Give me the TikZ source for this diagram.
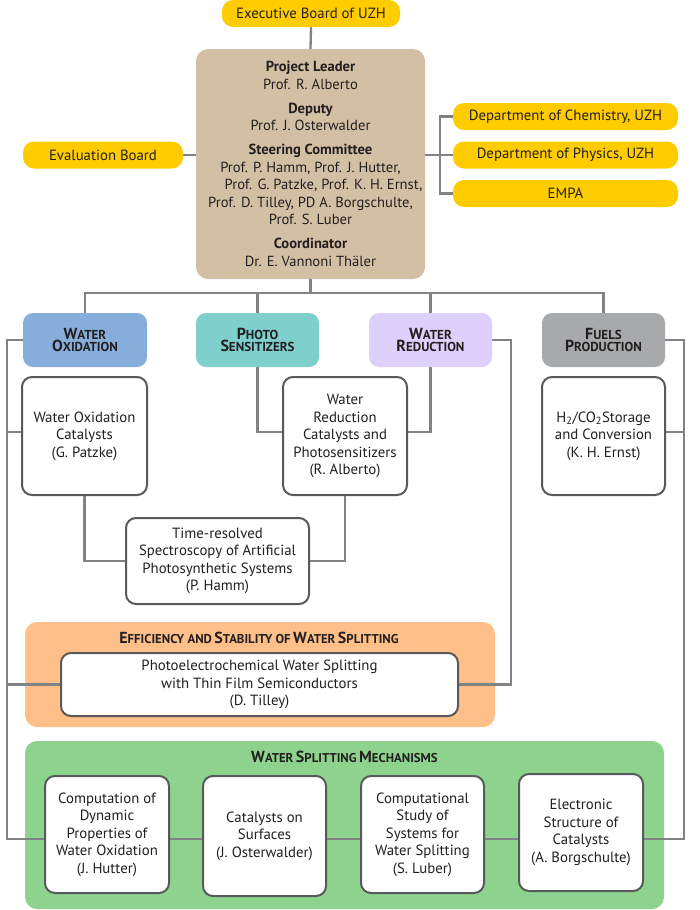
\documentclass[tikz,border=0pt]{standalone}
\usepackage{fontspec}
\setmainfont{PT Sans}
\usetikzlibrary{calc}
\definecolor{yel}{HTML}{FFCC00}
\definecolor{tan}{HTML}{D3C0A4}
\definecolor{cblue}{HTML}{87AEDB}
\definecolor{cteal}{HTML}{7FD0CD}
\definecolor{clav}{HTML}{DDD0FA}
\definecolor{cgray}{HTML}{A8A9AB}
\definecolor{corange}{HTML}{FFBF88}
\definecolor{cgreen}{HTML}{8ED38D}
\definecolor{lgray}{HTML}{808285}
\definecolor{bord}{HTML}{58595B}
\definecolor{txt}{HTML}{231F20}
\newcommand\cattxt[2]{{\fontsize{16}{18}\selectfont #1}{\fontsize{13}{18}\selectfont #2}}
\newcommand\pantxt[2]{{\fontsize{16}{16}\selectfont #1}{\fontsize{12.8}{16}\selectfont #2}}
\pgfdeclarelayer{panel}
\pgfdeclarelayer{lines}
\pgfsetlayers{panel,lines,main}
\begin{document}
\begin{tikzpicture}[x=1pt,y=-1pt,
  every node/.style={text=txt},
  ybox/.style={fill=yel, rounded corners=11pt, minimum height=27pt, inner sep=0pt, font=\fontsize{14.8}{17.5}\selectfont},
  catbox/.style={rounded corners=10pt, minimum width=123pt, minimum height=54pt, align=center, inner sep=0pt, font=\bfseries},
  wbox/.style={draw=bord, line width=2pt, fill=white, rounded corners=10pt, align=center, inner sep=0pt, font=\fontsize{14.8}{17.5}\selectfont},
  conn/.style={draw=lgray, line width=2.3pt},
  ptitle/.style={font=\bfseries, inner sep=0pt}]
\useasboundingbox (0,0) rectangle (700,910);

% top level
\node[ybox, minimum width=178pt] (exec) at (311,13.5) {Executive Board of UZH};
\node[fill=tan, rounded corners=12pt, minimum width=229pt, minimum height=230pt, inner sep=0pt, align=center, font=\fontsize{14.6}{17.5}\selectfont] (main) at (310.5,164)
 {\textbf{Project Leader}\\Prof. R. Alberto\\[6.5pt]\textbf{Deputy}\\Prof. J. Osterwalder\\[6.5pt]\textbf{Steering Committee}\\Prof. P. Hamm, Prof. J. Hutter,\\\hspace*{26pt}Prof. G. Patzke, Prof. K. H. Ernst,\\Prof. D. Tilley, PD A. Borgschulte,\\Prof. S. Luber\\[6.5pt]\textbf{Coordinator}\\Dr. E. Vannoni Thäler};
\node[ybox, minimum width=160pt] (eval) at (103,155) {Evaluation Board};
\node[ybox, minimum width=225pt] (chem) at (565.5,116.5) {Department of Chemistry, UZH};
\node[ybox, minimum width=225pt] (phys) at (565.5,155) {Department of Physics, UZH};
\node[ybox, minimum width=225pt] (empa) at (565.5,193.5) {EMPA};

% categories
\node[catbox, fill=cblue, minimum width=124pt] (wo) at (85,340) {\cattxt{W}{ATER}\\\cattxt{O}{XIDATION}};
\node[catbox, fill=cteal] (ps) at (257.5,340) {\cattxt{P}{HOTO}\\\cattxt{S}{ENSITIZERS}};
\node[catbox, fill=clav] (wr) at (430.5,340) {\cattxt{W}{ATER}\\\cattxt{R}{EDUCTION}};
\node[catbox, fill=cgray] (fp) at (603.5,340) {\cattxt{F}{UELS}\\\cattxt{P}{RODUCTION}};

% project boxes
\node[wbox, minimum width=125pt, minimum height=118pt] (woc) at (84.5,436) {Water Oxidation\\Catalysts\\(G. Patzke)};
\node[wbox, minimum width=124pt, minimum height=118pt] (wrc) at (345,436) {Water\\Reduction\\Catalysts and\\Photosensitizers\\(R. Alberto)};
\node[wbox, minimum width=123pt, minimum height=118pt] (h2) at (603.5,436) {H\textsubscript{2}/CO\textsubscript{2}Storage\\and Conversion\\(K. H. Ernst)};
\node[wbox, minimum width=183pt, minimum height=86pt] (tr) at (217.5,561) {Time-resolved\\Spectroscopy of Artificial\\Photosynthetic Systems\\(P. Hamm)};

% orange panel
\node[wbox, minimum width=397pt, minimum height=63pt] (pec) at (259.5,684.5) {Photoelectrochemical Water Splitting\\with Thin Film Semiconductors\\(D. Tilley)};
\node[ptitle] (otitle) at (259,638) {\pantxt{E}{FFICIENCY AND} \pantxt{S}{TABILITY OF} \pantxt{W}{ATER} \pantxt{S}{PLITTING}};

% green panel
\node[wbox, minimum width=124pt, minimum height=117pt] (hut) at (107,834.5) {Computation of\\Dynamic\\Properties of\\Water Oxidation\\(J. Hutter)};
\node[wbox, minimum width=123pt, minimum height=120pt] (ost) at (264.5,836) {Catalysts on\\Surfaces\\(J. Osterwalder)};
\node[wbox, minimum width=123pt, minimum height=117pt] (lub) at (422.5,834.5) {Computational\\Study of\\Systems for\\Water Splitting\\(S. Luber)};
\node[wbox, minimum width=124pt, minimum height=117pt] (borg) at (581,832.5) {Electronic\\Structure of\\Catalysts\\(A. Borgschulte)};
\node[ptitle] (gtitle) at (344.5,757) {\pantxt{W}{ATER} \pantxt{S}{PLITTING} \pantxt{M}{ECHANISMS}};

\begin{pgfonlayer}{panel}
  \fill[corange, rounded corners=12pt] (25,622) rectangle (495,727);
  \fill[cgreen, rounded corners=12pt] (25,741) rectangle (664,909);
\end{pgfonlayer}

\coordinate (bus) at (0,293);
\coordinate (L) at (7,0);
\coordinate (R1) at (511,0);
\coordinate (R2) at (684,0);
\coordinate (r1) at (0,432);
\coordinate (hl) at (0,839);
\coordinate (bx) at (440,0);

\begin{pgfonlayer}{lines}
  \draw[conn] (exec.south) -- (main.north);
  \draw[conn] (eval.east) -- (eval.east -| main.west);
  \draw[conn] (phys.west -| main.east) -- (phys.west);
  \draw[conn] (chem.west) -| (bx |- empa.west) -- (empa.west);
  \draw[conn] (main.south) -- (main.south |- bus);
  \draw[conn] (wo.north) -- (wo.north |- bus) -| (fp.north);
  \draw[conn] (ps.north) -- (ps.north |- bus);
  \draw[conn] (wr.north) -- (wr.north |- bus);
  % left long line
  \draw[conn] (wo.west) -| (L |- hl) -- (hut.west |- hl);
  \draw[conn] (L |- r1) -- (woc.west |- r1);
  \draw[conn] (L |- pec.west) -- (pec.west);
  % photo sensitizer and water reduction to wrc
  \draw[conn] (ps.south) |- (wrc.west |- r1);
  \draw[conn] (wr.south) |- (wrc.east |- r1);
  % to time resolved
  \draw[conn] (woc.south) |- (tr.west);
  \draw[conn] (wrc.south) |- (tr.east);
  % water reduction right line
  \draw[conn] (wr.east) -| (R1 |- pec.east) -- (pec.east);
  % fuels right line
  \draw[conn] (fp.east) -| (R2 |- hl) -- (borg.east |- hl);
  \draw[conn] (R2 |- r1) -- (h2.east |- r1);
  % chain
  \draw[conn] (hut.east |- hl) -- (ost.west |- hl);
  \draw[conn] (ost.east |- hl) -- (lub.west |- hl);
  \draw[conn] (lub.east |- hl) -- (borg.west |- hl);
\end{pgfonlayer}
\end{tikzpicture}
\end{document}
